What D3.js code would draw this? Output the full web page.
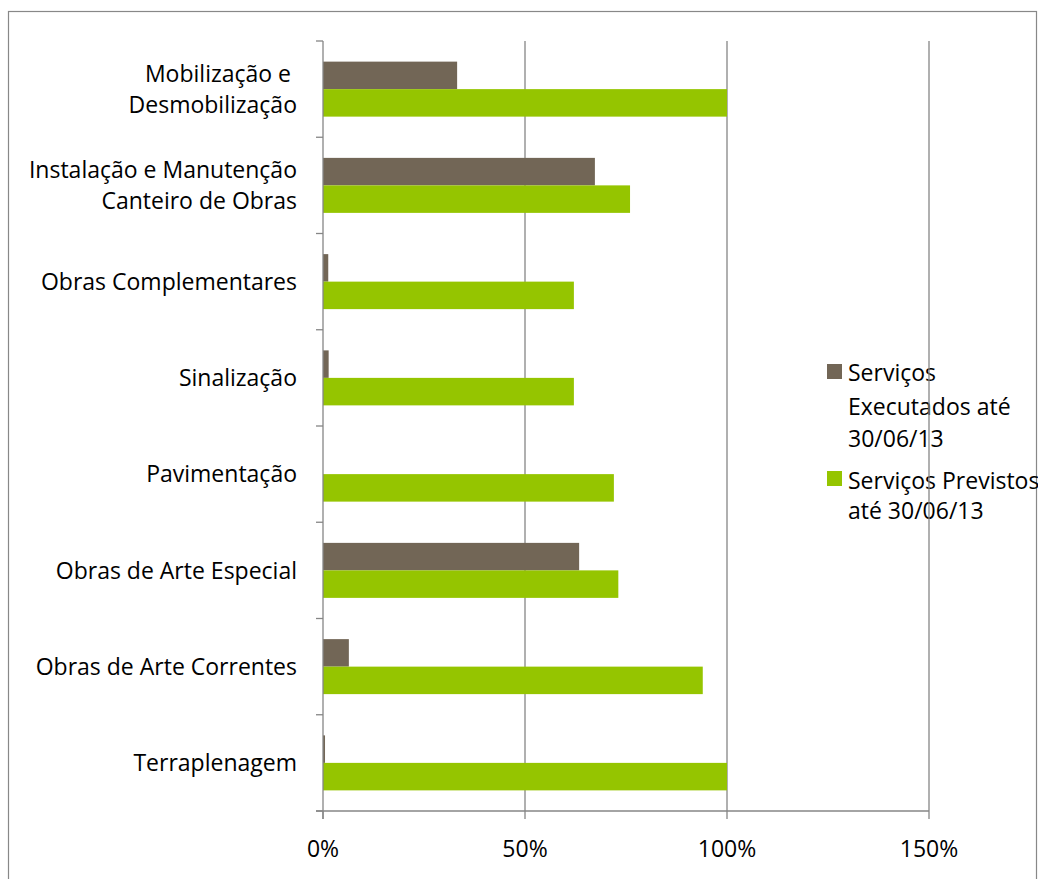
<!DOCTYPE html>
<html>
<head>
<meta charset="utf-8">
<script src="https://cdn.jsdelivr.net/npm/d3@7"></script>
<style>
html,body{margin:0;padding:0;background:#fff;}
svg{display:block;}
text{font-family:"Open Sans", Lato, sans-serif;fill:#000;}
</style>
</head>
<body>
<svg id="chart" width="1038" height="879"></svg>
<script>
const categories = [
  ["Mobilização e ", "Desmobilização"],
  ["Instalação e Manutenção", "Canteiro de Obras"],
  ["Obras Complementares"],
  ["Sinalização"],
  ["Pavimentação"],
  ["Obras de Arte Especial"],
  ["Obras de Arte Correntes"],
  ["Terraplenagem"]
];
const seriesNames = ["Serviços Executados até 30/06/13", "Serviços Previstos até 30/06/13"];
const legendLines = [["Serviços", "Executados até", "30/06/13"], ["Serviços Previstos", "até 30/06/13"]];
const executados = [0.332, 0.673, 0.013, 0.014, 0.0, 0.634, 0.064, 0.005];
const previstos  = [1.0, 0.76, 0.621, 0.621, 0.72, 0.731, 0.94, 1.0];
const xTicks = [0, 0.5, 1.0, 1.5];
const colors = ["#726656", "#95C500"];

const FS = 23;
const svg = d3.select("#chart");
const pL = 323, pR = 929, pT = 41, pB = 811;
const keys = categories.map((c, i) => i);

const x = d3.scaleLinear().domain([0, 1.5]).range([pL, pR]);
const y = d3.scaleBand().domain(keys).range([pT, pB]).paddingInner(0).paddingOuter(0);
const bandW = y.bandwidth();
const barH = bandW / 3.5;

// outer border
svg.append("rect").attr("x", 8.5).attr("y", 11.5).attr("width", 1028).attr("height", 900)
  .attr("fill", "none").attr("stroke", "#888").attr("stroke-width", 1.2);

// legend
const lg = svg.append("g");
const legendY = [[372, 406, 438], [480, 510]];
const sqY = [364, 471];
legendLines.forEach((lines, i) => {
  lg.append("rect").attr("x", 827).attr("y", sqY[i]).attr("width", 15).attr("height", 15).attr("fill", colors[i]);
  lines.forEach((ln, j) => {
    lg.append("text").attr("x", 848).attr("y", legendY[i][j]).attr("dy", "0.38em")
      .attr("font-size", FS).text(ln);
  });
});

// gridlines
svg.append("g").selectAll("line").data(xTicks.slice(1)).join("line")
  .attr("x1", d => x(d)).attr("x2", d => x(d)).attr("y1", pT).attr("y2", pB)
  .attr("stroke", "#868686").attr("stroke-width", 1.3);

// bars
const data = [];
keys.forEach(k => {
  data.push({k, s: 0, v: executados[k]});
  data.push({k, s: 1, v: previstos[k]});
});
svg.append("g").selectAll("rect").data(data).join("rect")
  .attr("x", x(0))
  .attr("y", d => y(d.k) + barH * 0.75 + d.s * barH)
  .attr("width", d => x(d.v) - x(0))
  .attr("height", barH)
  .attr("fill", d => colors[d.s]);

// y axis
const yAxisG = svg.append("g");
yAxisG.append("line").attr("x1", pL).attr("x2", pL).attr("y1", pT).attr("y2", pB + 8)
  .attr("stroke", "#868686").attr("stroke-width", 1.3);
const bounds = keys.map(k => y(k)).concat([pB]);
yAxisG.selectAll("line.t").data(bounds).join("line").attr("class", "t")
  .attr("x1", pL - 7).attr("x2", pL).attr("y1", d => d).attr("y2", d => d)
  .attr("stroke", "#868686").attr("stroke-width", 1.3);

// x axis
const xAxisG = svg.append("g");
xAxisG.append("line").attr("x1", pL - 7).attr("x2", pR).attr("y1", pB).attr("y2", pB)
  .attr("stroke", "#868686").attr("stroke-width", 1.3);
xAxisG.selectAll("line.t").data(xTicks).join("line").attr("class", "t")
  .attr("x1", d => x(d)).attr("x2", d => x(d)).attr("y1", pB).attr("y2", pB + 8)
  .attr("stroke", "#868686").attr("stroke-width", 1.3);
xAxisG.selectAll("text").data(xTicks).join("text")
  .attr("x", d => x(d)).attr("y", 848).attr("dy", "0.38em").attr("text-anchor", "middle")
  .attr("font-size", FS).text(d3.format(".0%"));

// category labels
const lab = svg.append("g");
keys.forEach(k => {
  const lines = categories[k];
  const cy = y(k) + bandW / 2;
  const lh = 31;
  lines.forEach((ln, j) => {
    lab.append("text").attr("x", 297).attr("y", cy + (j - (lines.length - 1) / 2) * lh)
      .attr("dy", "0.36em").attr("text-anchor", "end").attr("font-size", FS)
      .attr("xml:space", "preserve").style("white-space", "pre").text(ln);
  });
});
</script>
</body>
</html>
